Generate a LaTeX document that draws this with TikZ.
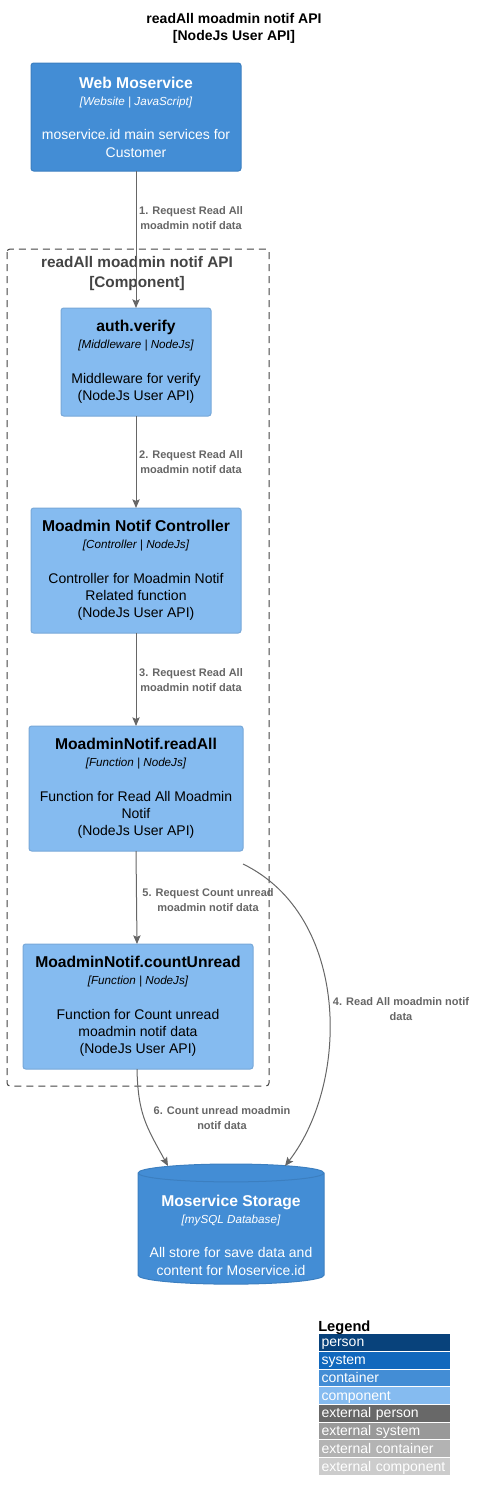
\documentclass[tikz,border=0pt]{standalone}
\usepackage{fontspec}
\setmainfont{Liberation Sans}
\usetikzlibrary{arrows.meta,shapes.geometric}

\definecolor{contfill}{HTML}{438DD5}
\definecolor{contline}{HTML}{3C7FC0}
\definecolor{compfill}{HTML}{85BBF0}
\definecolor{compline}{HTML}{78A8D8}
\definecolor{relgray}{HTML}{666666}
\definecolor{bndgray}{HTML}{444444}
\definecolor{lgperson}{HTML}{08427B}
\definecolor{lgsystem}{HTML}{1168BD}
\definecolor{lgextperson}{HTML}{686868}
\definecolor{lgextsystem}{HTML}{999999}
\definecolor{lgextcont}{HTML}{B3B3B3}
\definecolor{lgextcomp}{HTML}{CCCCCC}

\newcommand{\ctitle}[1]{{\bfseries\fontsize{11.75}{12.94}\selectfont #1}}
\newcommand{\ctech}[1]{{\itshape\fontsize{8.75}{12.94}\selectfont #1}}

\tikzset{
  contbox/.style={draw=contline,fill=contfill,text=white,rounded corners=2pt,align=center,inner sep=0pt,outer sep=0pt,line width=0.75pt,font=\fontsize{10.5}{12.94}\selectfont},
  compbox/.style={draw=compline,fill=compfill,text=black,rounded corners=2pt,align=center,inner sep=0pt,outer sep=0pt,line width=0.75pt,font=\fontsize{10.5}{12.94}\selectfont},
  rel/.style={draw=relgray,line width=0.75pt,-{Stealth[length=6.5pt,width=5.5pt,inset=1.2pt]}},
  rellabel/.style={text=relgray,align=center,inner sep=0pt,font=\bfseries\fontsize{8.25}{11.25}\selectfont},
  bndbox/.style={draw=bndgray,line width=0.75pt,dash pattern=on 5.25pt off 3.75pt,rounded corners=2.25pt},
  legrow/.style={anchor=north,text=white,minimum height=12.56pt,text width=94.5pt,text height=9.3pt,text depth=2.4pt,inner xsep=1.875pt,inner ysep=0pt,outer sep=0pt,align=left,font=\fontsize{10.5}{12}\selectfont}
}

\begin{document}
\begin{tikzpicture}[x=0.75pt,y=-0.75pt]
\useasboundingbox (0,0) rectangle (480,1500);

\node [align=center,font=\bfseries\fontsize{10.5}{12.75}\selectfont](title) at (234,28.5) {readAll moadmin notif API\\{[NodeJs User API]}};

% outer system
\node [anchor=north,contbox,minimum width=157.5pt,minimum height=81pt](node1) at (136,63) {\ctitle{Web Moservice}\\ \ctech{[Website | JavaScript]}\\[12.94pt] moservice.id main services for\\ Customer};

% component boundary
\draw [bndbox] (7,249) rectangle (269,1086);
\node [text=bndgray,align=center,font=\bfseries\fontsize{11.5}{15}\selectfont](bnd) at (137,274) {readAll moadmin notif API\\{[Component]}};

\node [anchor=north,compbox,minimum width=112.5pt,minimum height=81pt](node2) at ([yshift=-102.75pt]node1.south) {\ctitle{auth.verify}\\ \ctech{[Middleware | NodeJs]}\\[12.94pt] Middleware for verify\\ (NodeJs User API)};

\node [anchor=north,compbox,minimum width=157.5pt,minimum height=93.75pt](node3) at ([yshift=-69pt]node2.south) {\ctitle{Moadmin Notif Controller}\\ \ctech{[Controller | NodeJs]}\\[12.94pt] Controller for Moadmin Notif\\ Related function\\ (NodeJs User API)};

\node [anchor=north,compbox,minimum width=160.5pt,minimum height=93.75pt](node4) at ([yshift=-69.75pt]node3.south) {\ctitle{MoadminNotif.readAll}\\ \ctech{[Function | NodeJs]}\\[12.94pt] Function for Read All Moadmin\\ Notif\\ (NodeJs User API)};

\node [anchor=north,compbox,minimum width=172.5pt,minimum height=93.75pt](node5) at ([xshift=1.5pt,yshift=-69.75pt]node4.south) {\ctitle{MoadminNotif.countUnread}\\ \ctech{[Function | NodeJs]}\\[12.94pt] Function for Count unread\\ moadmin notif data\\ (NodeJs User API)};

% database
\node [anchor=north,cylinder,shape border rotate=90,aspect=0.11,draw=contline,fill=contfill,text=white,line width=0.75pt,align=center,inner sep=0pt,outer sep=0pt,minimum width=139.5pt,minimum height=87.75pt,text height=69.5pt,font=\fontsize{10.5}{12.94}\selectfont](node6) at ([xshift=69.75pt,yshift=-71.25pt]node5.south) {\ctitle{Moservice Storage}\\ \ctech{[mySQL Database]}\\[12.94pt] All store for save data and\\ content for Moservice.id};

% relations
\draw [rel](node1.south)--(node2.north);
\node [rellabel](node1-1) at ([xshift=41.25pt,yshift=-35.625pt]node1.south) {1. Request Read All\\ moadmin notif data};

\draw [rel](node2.south)--(node3.north);
\node [rellabel](node2-1) at ([xshift=41.25pt,yshift=-34.875pt]node2.south) {2. Request Read All\\ moadmin notif data};

\draw [rel](node3.south)--(node4.north);
\node [rellabel](node3-1) at ([xshift=41.25pt,yshift=-35.625pt]node3.south) {3. Request Read All\\ moadmin notif data};

\draw [rel]([yshift=-9.75pt]node4.south east) .. controls +(107,52) and +(65,-84) .. ([xshift=40.5pt,yshift=-1.5pt]node6.north);
\node [rellabel](node4-1) at ([xshift=118.5pt,yshift=-118.5pt]node4.south east) {4. Read All moadmin notif\\ data};

\draw [rel](node4.south)--([xshift=-0.75pt]node5.north);
\node [rellabel](node4-2) at ([xshift=54pt,yshift=-36.75pt]node4.south) {5. Request Count unread\\ moadmin notif data};

\draw [rel]([xshift=-0.75pt]node5.south) .. controls +(1,45) and +(-22,-40) .. ([xshift=-47.25pt,yshift=-1.5pt]node6.north);
\node [rellabel](node5-1) at ([xshift=63pt,yshift=-37.125pt]node5.south) {6. Count unread moadmin\\ notif data};

% legend
\node [anchor=west,inner sep=0pt,font=\bfseries\fontsize{11}{13}\selectfont](leg) at (318,1327.5) {Legend};
\node [legrow,fill=lgperson](leg1) at (384.5,1334) {person};
\node [legrow,fill=lgsystem](leg2) at ([yshift=-0.75pt]leg1.south) {system};
\node [legrow,fill=contfill](leg3) at ([yshift=-0.75pt]leg2.south) {container};
\node [legrow,fill=compfill](leg4) at ([yshift=-0.75pt]leg3.south) {component};
\node [legrow,fill=lgextperson](leg5) at ([yshift=-0.75pt]leg4.south) {external person};
\node [legrow,fill=lgextsystem](leg6) at ([yshift=-0.75pt]leg5.south) {external system};
\node [legrow,fill=lgextcont](leg7) at ([yshift=-0.75pt]leg6.south) {external container};
\node [legrow,fill=lgextcomp](leg8) at ([yshift=-0.75pt]leg7.south) {external component};

\end{tikzpicture}
\end{document}
